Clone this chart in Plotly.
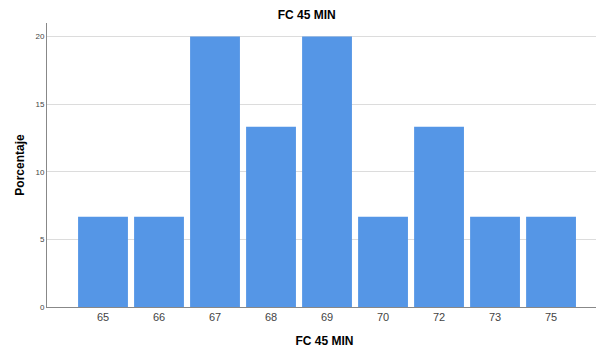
import plotly.graph_objects as go

categories = ["65", "66", "67", "68", "69", "70", "72", "73", "75"]
percentages = [6.67, 6.67, 20.0, 13.33, 20.0, 6.67, 13.33, 6.67, 6.67]
y_ticks = [0, 5, 10, 15, 20]

fig = go.Figure(go.Bar(
    x=categories, y=percentages,
    marker=dict(color="#5596E6", line=dict(width=0)),
    width=0.89,
))

# page body adds an 8px offset; figure is sized to compensate
fig.update_layout(
    width=596, height=345,
    margin=dict(l=39, r=2, t=15, b=46, autoexpand=False),
    paper_bgcolor="white", plot_bgcolor="white",
    font=dict(family="Liberation Sans, Arial, sans-serif", color="#333"),
    showlegend=False,
    title=dict(text="<b>FC 45 MIN</b>", xref="paper", x=0.468, xanchor="center",
               yref="container", y=0.979, yanchor="middle",
               font=dict(size=12, color="#000")),
    xaxis=dict(
        type="category", range=[-1.0, 8.91],
        showline=True, linecolor="#888", linewidth=1,
        showgrid=False, ticks="", tickfont=dict(size=11, color="#444444"),
        title=dict(text="<b>FC 45 MIN</b>", font=dict(size=12, color="#000"), standoff=14),
    ),
    yaxis=dict(
        range=[0, 21.0], tickvals=y_ticks,
        showline=True, linecolor="#888", linewidth=1,
        showgrid=True, gridcolor="#dcdcdc", gridwidth=1,
        zeroline=False, ticks="", tickfont=dict(size=8, color="#444444"),
        title=dict(text="<b>Porcentaje</b>", font=dict(size=12, color="#000"), standoff=8),
    ),
)

fig.write_html("out.html")
